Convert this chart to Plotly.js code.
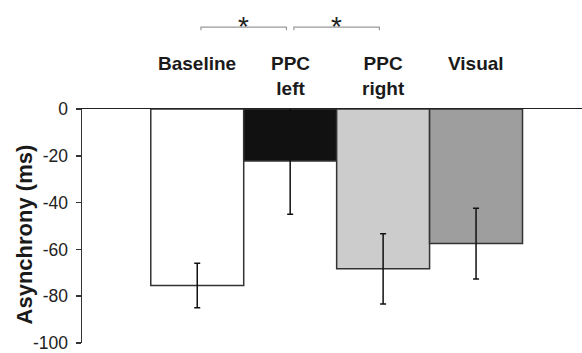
<!DOCTYPE html>
<html><head><meta charset="utf-8">
<script src="https://cdn.plot.ly/plotly-3.0.1.min.js"></script>
<style>html,body{margin:0;padding:0;background:#fff}#c{width:582px;height:353px}</style>
</head><body><div id="c"></div>
<script>
var categories = ["Baseline", "PPC left", "PPC right", "Visual"];
var labels = ["Baseline", "PPC<br>left", "PPC<br>right", "Visual"];
var means = [-75.4, -22.2, -68.3, -57.5];
var errors = [9.5, 22.8, 15, 15.1];
var colors = ["#ffffff", "#111111", "#cccccc", "#9e9e9e"];
var sigPairs = [[0, 1], [1, 2]];
var yTicks = [0, -20, -40, -60, -80, -100];

var FONT = 'Liberation Sans, Arial, sans-serif';
var shapes = [], annotations = [];
sigPairs.forEach(function (p) {
  var a = p[0] + 0.04, b = p[1] - 0.04;
  shapes.push({type: 'path', xref: 'x', yref: 'paper',
    path: 'M' + a + ',1.337 L' + a + ',1.350 L' + b + ',1.350 L' + b + ',1.337',
    line: {color: '#999', width: 1.2}});
  annotations.push({xref: 'x', yref: 'paper', x: (p[0] + p[1]) / 2, y: 1.352, yanchor: 'middle',
    text: '*', showarrow: false, font: {family: FONT, size: 28, color: '#222'}});
});
categories.forEach(function (c, i) {
  annotations.push({xref: 'x', yref: 'paper', x: i, y: 1.248, yanchor: 'top',
    text: '<b>' + labels[i] + '</b>', showarrow: false,
    font: {family: FONT, size: 19, color: '#1a1a1a'}});
});
annotations.push({xref: 'paper', yref: 'paper', x: -0.116, y: 0.464, xanchor: 'center', yanchor: 'middle',
  textangle: -90, text: '<b>Asynchrony (ms)</b>', showarrow: false,
  font: {family: FONT, size: 22, color: '#1a1a1a'}});

var trace = {
  type: 'bar', x: [0, 1, 2, 3], y: means, width: 1,
  marker: {color: colors, line: {color: '#333', width: 1.5}},
  error_y: {type: 'data', array: errors, visible: true, color: '#111', thickness: 1.5, width: 3},
  hoverinfo: 'none'
};

var layout = {
  width: 582, height: 353,
  margin: {l: 82, r: 0, t: 109, b: 10},
  paper_bgcolor: '#fff', plot_bgcolor: '#fff',
  showlegend: false,
  xaxis: {range: [-1.24, 4.14], side: 'top', showline: true, linecolor: '#222', linewidth: 1.5,
    showticklabels: false, ticks: '', showgrid: false, zeroline: false, fixedrange: true},
  yaxis: {range: [-100, 0], tickvals: yTicks, ticktext: yTicks.map(String), ticks: 'outside', ticklen: 5,
    tickcolor: '#333', tickwidth: 1.5, showline: true, linecolor: '#333', linewidth: 1.5,
    showgrid: false, zeroline: false, ticklabeloverflow: 'allow', ticklabelstandoff: 4,
    tickfont: {family: FONT, size: 17.5, color: '#222'}},
  shapes: shapes, annotations: annotations
};
Plotly.newPlot('c', [trace], layout, {displayModeBar: false, staticPlot: true});
</script></body></html>
